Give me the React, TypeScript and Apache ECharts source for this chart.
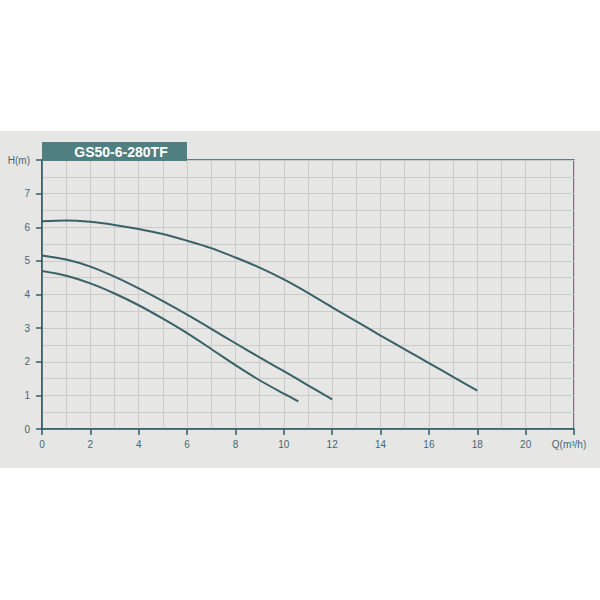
import React, { useEffect, useRef } from "react";
import * as echarts from "echarts";

const TITLE = "GS50-6-280TF";
const X_TICKS_MAX = 22;
const Y_TICKS_MAX = 8;

const flowHigh = [0, 1, 2, 3, 4, 5, 6, 7, 8, 9, 10, 11, 12, 13, 14, 15, 16, 17, 18];
const headHigh = [6.18, 6.2, 6.16, 6.07, 5.95, 5.8, 5.6, 5.38, 5.1, 4.8, 4.45, 4.05, 3.62, 3.2, 2.78, 2.37, 1.96, 1.55, 1.14];

const flowMid = [0, 1, 2, 3, 4, 5, 6, 7, 8, 9, 10, 11, 12];
const headMid = [5.16, 5.04, 4.83, 4.53, 4.18, 3.8, 3.4, 2.98, 2.55, 2.13, 1.72, 1.3, 0.88];

const flowLow = [0, 1, 2, 3, 4, 5, 6, 7, 8, 9, 10, 10.6];
const headLow = [4.7, 4.56, 4.33, 4.03, 3.68, 3.28, 2.85, 2.38, 1.9, 1.45, 1.05, 0.82];

const pairs = (xs: number[], ys: number[]) => xs.map((x, i) => [x, ys[i]]);

export default function App() {
  const ref = useRef<HTMLDivElement>(null);
  useEffect(() => {
    document.body.style.margin = "0";
    if (!ref.current) return;
    const chart = echarts.init(ref.current, undefined, { renderer: "svg" });
    const axisColor = "#2f5d66";
    const labelColor = "#466670";
    const gridColor = "#cbcbca";
    const curveStyle = { color: "#3a6068", width: 2 };
    const lineSeries = (data: number[][]) => ({
      type: "line",
      data,
      smooth: 0.3,
      showSymbol: false,
      symbol: "none",
      lineStyle: curveStyle,
    });
    chart.setOption({
      animation: false,
      backgroundColor: "#ffffff",
      grid: {
        left: 42,
        right: 26,
        top: 160,
        bottom: 171,
        show: true,
        borderColor: axisColor,
        borderWidth: 1.5,
        backgroundColor: "transparent",
      },
      graphic: [
        {
          type: "rect",
          z: -10,
          silent: true,
          shape: { x: 0, y: 131, width: 600, height: 337 },
          style: { fill: "#e6e6e4" },
        },
        {
          type: "rect",
          z: 10,
          shape: { x: 42, y: 142, width: 145, height: 19 },
          style: { fill: "#4f7f80" },
        },
        {
          type: "text",
          z: 11,
          x: 121,
          y: 152,
          style: {
            text: TITLE,
            fill: "#ffffff",
            font: "bold 14px 'Liberation Sans', Arial, sans-serif",
            textAlign: "center",
            textVerticalAlign: "middle",
          },
        },
      ],
      xAxis: {
        type: "value",
        min: 0,
        max: X_TICKS_MAX,
        interval: 2,
        axisLine: { show: true, lineStyle: { color: axisColor, width: 1.5 } },
        axisTick: { show: true, length: 6, lineStyle: { color: axisColor, width: 1.5 } },
        axisLabel: {
          color: labelColor,
          fontSize: 10,
          fontFamily: "'Liberation Sans', Arial, sans-serif",
          margin: 10,
          showMaxLabel: true,
          showMinLabel: true,
          formatter: (v: number) => (v === X_TICKS_MAX ? "{q|Q(m³/h)}" : String(v)),
          rich: { q: { color: labelColor, fontSize: 10, padding: [0, 10, 0, 0] } },
        },
        splitLine: { show: true, lineStyle: { color: gridColor, width: 1 } },
        minorTick: { show: false, splitNumber: 2 },
        minorSplitLine: { show: true, lineStyle: { color: gridColor, width: 1 } },
      },
      yAxis: {
        type: "value",
        min: 0,
        max: Y_TICKS_MAX,
        interval: 1,
        axisLine: { show: true, lineStyle: { color: axisColor, width: 1.5 } },
        axisTick: { show: true, length: 6, lineStyle: { color: axisColor, width: 1.5 } },
        axisLabel: {
          color: labelColor,
          fontSize: 10,
          fontFamily: "'Liberation Sans', Arial, sans-serif",
          margin: 12,
          showMaxLabel: true,
          formatter: (v: number) => (v === Y_TICKS_MAX ? "H(m)" : String(v)),
        },
        splitLine: { show: true, lineStyle: { color: gridColor, width: 1 } },
        minorTick: { show: false, splitNumber: 2 },
        minorSplitLine: { show: true, lineStyle: { color: gridColor, width: 1 } },
      },
      series: [
        lineSeries(pairs(flowHigh, headHigh)),
        lineSeries(pairs(flowMid, headMid)),
        lineSeries(pairs(flowLow, headLow)),
      ],
    });
    return () => chart.dispose();
  }, []);
  return <div ref={ref} style={{ width: 600, height: 600 }} />;
}
